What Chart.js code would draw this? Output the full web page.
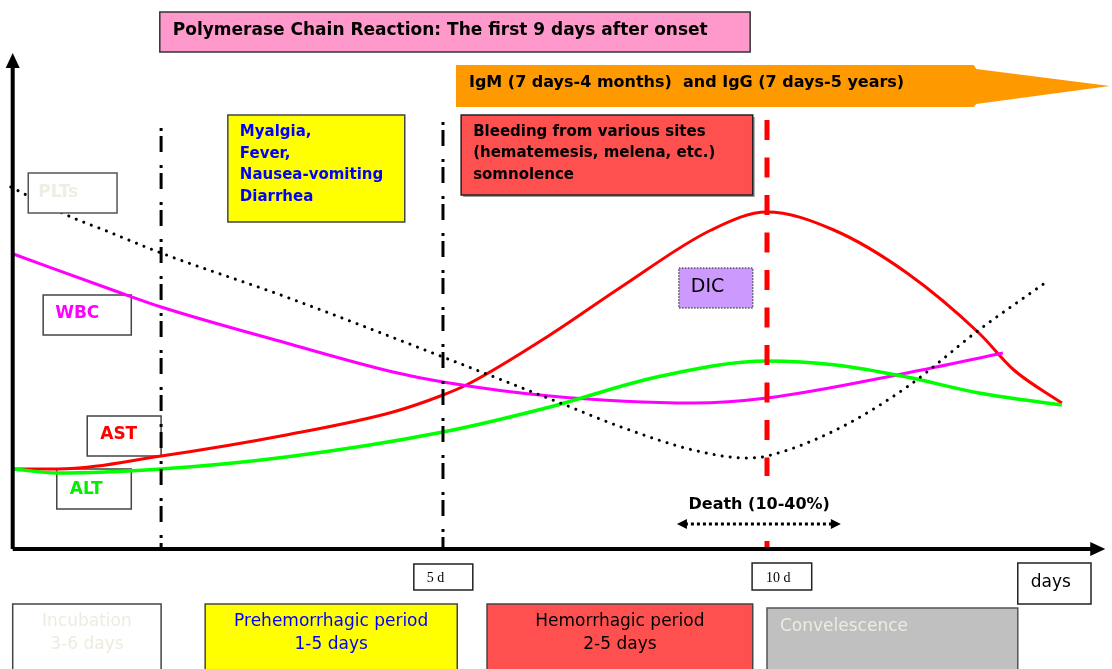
<!DOCTYPE html>
<html>
<head>
    <title>Hemorrhagic fever course</title>
    <style>
        html, body { margin: 0; padding: 0; background: #fff; }
        #canvas-container { width: 1112px; height: 669px; }
    </style>
    <script src="https://cdn.jsdelivr.net/npm/chart.js"></script>
</head>
<body>
    <div id="canvas-container">
        <canvas id="myChart" width="1112" height="669"></canvas>
    </div>

    <script>
        // x = days after onset, y = relative level (0 = baseline)
        const astDays = [-1.64, -0.96, 0.65, 2.58, 4.23, 5.0, 5.39, 6.65, 7.75, 9.14, 10.0, 11.03, 12.16, 13.27, 13.81, 14.55];
        const astLevels = [8.0, 8.0, 9.3, 11.4, 13.7, 15.4, 16.5, 21.4, 26.2, 31.9, 33.7, 31.9, 27.6, 21.6, 17.9, 14.6];

        const altDays = [-1.63, -0.96, 0.65, 2.58, 5.0, 6.65, 8.30, 10.0, 11.06, 12.16, 13.27, 14.55];
        const altLevels = [8.0, 7.6, 8.0, 9.2, 11.7, 14.2, 17.2, 18.8, 18.4, 17.2, 15.6, 14.4];

        const wbcDays = [-1.63, 0.03, 0.65, 2.58, 4.23, 5.0, 6.65, 8.86, 10.0, 12.16, 13.64];
        const wbcLevels = [29.5, 25.6, 24.2, 20.6, 17.7, 16.7, 15.3, 14.6, 15.1, 17.6, 19.6];

        const pltDays = [-1.67, -0.74, -0.23, 0.65, 2.58, 5.0, 6.81, 7.75, 8.86, 9.68, 10.0, 11.06, 12.16, 13.27, 14.31];
        const pltLevels = [36.2, 33.2, 31.9, 29.6, 25.2, 19.2, 14.6, 12.2, 9.9, 9.1, 9.3, 11.9, 16.2, 21.9, 26.7];

        // vertical period markers: day and how high they reach
        const markerDays = [0.65, 5, 10];
        const markerTops = [42.1, 42.7, 42.9];

        const tickLabels = ['5 d', '10 d', 'days'];
        const periodLabels = [['Incubation', '3-6 days'], ['Prehemorrhagic period', '1-5 days'], ['Hemorrhagic period', '2-5 days'], ['Convelescence']];

        const pts = (xs, ys) => xs.map((x, i) => ({ x: x, y: ys[i] }));
        const FONT = '"Comic Sans MS", "DejaVu Sans", sans-serif';

        function curve(label, xs, ys, color, width, dash) {
            return {
                label: label,
                data: pts(xs, ys),
                borderColor: color,
                borderWidth: width,
                borderDash: dash || [],
                borderCapStyle: dash ? 'round' : 'butt',
                cubicInterpolationMode: 'monotone',
                pointRadius: 0,
                fill: false,
                clip: false
            };
        }

        // drawn top-down so the dash pattern starts at the top like the original
        function marker(i, color, width, dash) {
            return {
                label: 'marker' + i,
                data: [{ x: markerDays[i], y: markerTops[i] }, { x: markerDays[i], y: 0 }],
                borderColor: color,
                borderWidth: width,
                borderDash: dash,
                pointRadius: 0,
                clip: false
            };
        }

        // text boxes, placed in chart units (days / levels)
        const boxes = [
            { x0: 0.63, x1: 9.74, y0: 53.7, y1: 49.7, fill: '#FF99CC', stroke: '#333', lines: ['Polymerase Chain Reaction: The first 9 days after onset'], font: 'bold 17px', color: '#000', pad: 13, top: 19 },
            { x0: 1.68, x1: 4.41, y0: 43.4, y1: 32.7, fill: '#FFFF00', stroke: '#444', lines: ['Myalgia,', 'Fever,', 'Nausea-vomiting', 'Diarrhea'], font: 'bold 15px', color: '#0000FF', pad: 12, top: 17, lh: 21.7 },
            { x0: 5.28, x1: 9.78, y0: 43.4, y1: 35.4, fill: '#FF5050', stroke: '#222', shadow: true, lines: ['Bleeding from various sites', '(hematemesis, melena, etc.)', 'somnolence'], font: 'bold 15px', color: '#000', pad: 12, top: 17, lh: 21.5 },
            { x0: -1.40, x1: -0.03, y0: 37.6, y1: 33.6, fill: '#fff', stroke: '#555', lines: ['PLTs'], font: 'bold 17px', color: '#EEEEE4', pad: 10, top: 20, front: true },
            { x0: -1.17, x1: 0.19, y0: 25.4, y1: 21.4, fill: '#fff', stroke: '#444', lines: ['WBC'], font: 'bold 17px', color: '#FF00FF', pad: 12, top: 19 },
            { x0: -0.49, x1: 0.65, y0: 13.3, y1: 9.3, fill: '#fff', stroke: '#444', lines: ['AST'], font: 'bold 17px', color: '#FF0000', pad: 13, top: 19 },
            { x0: -0.96, x1: 0.19, y0: 8.0, y1: 4.0, fill: '#fff', stroke: '#444', lines: ['ALT'], font: 'bold 17px', color: '#00EE00', pad: 13, top: 21 },
            { x0: 8.64, x1: 9.78, y0: 28.1, y1: 24.1, fill: '#CC99FF', stroke: '#555', dotted: true, lines: ['DIC'], font: '19px', color: '#000', pad: 12, top: 19 },
            { x0: 4.55, x1: 5.46, y0: -1.5, y1: -4.1, fill: '#fff', stroke: '#222', lines: [tickLabels[0]], font: '14px', family: '"Liberation Serif", serif', color: '#000', pad: 13, top: 14 },
            { x0: 9.77, x1: 10.69, y0: -1.4, y1: -4.1, fill: '#fff', stroke: '#222', lines: [tickLabels[1]], font: '14px', family: '"Liberation Serif", serif', color: '#000', pad: 14, top: 15 },
            { x0: 13.87, x1: 15.0, y0: -1.4, y1: -5.5, fill: '#fff', stroke: '#222', lines: [tickLabels[2]], font: '17px', color: '#000', pad: 13, top: 20 },
            { x0: -1.64, x1: 0.65, y0: -5.5, y1: -13.5, fill: '#fff', stroke: '#444', lines: periodLabels[0], font: '17px', color: '#EEEBDF', center: true, top: 18, lh: 23 },
            { x0: 1.33, x1: 5.22, y0: -5.5, y1: -13.5, fill: '#FFFF00', stroke: '#444', lines: periodLabels[1], font: '17px', color: '#0000FF', center: true, top: 18, lh: 23 },
            { x0: 5.68, x1: 9.78, y0: -5.5, y1: -13.5, fill: '#FF5050', stroke: '#444', lines: periodLabels[2], font: '17px', color: '#000', center: true, top: 18, lh: 23 },
            { x0: 10.0, x1: 13.87, y0: -5.9, y1: -13.5, fill: '#C0C0C0', stroke: '#555', lines: periodLabels[3], font: '17px', color: '#EEEBDF', pad: 13, top: 19 }
        ];

        function drawBox(ctx, xs, ys, b) {
            const l = xs.getPixelForValue(b.x0), r = xs.getPixelForValue(b.x1);
            const t = ys.getPixelForValue(b.y0), bt = ys.getPixelForValue(b.y1);
            ctx.save();
            if (b.shadow) {
                ctx.fillStyle = '#9a9a9a';
                ctx.fillRect(l + 2, t + 2, r - l, bt - t);
            }
            ctx.fillStyle = b.fill;
            ctx.fillRect(l, t, r - l, bt - t);
            ctx.strokeStyle = b.stroke;
            ctx.lineWidth = 1.5;
            if (b.dotted) ctx.setLineDash([1.5, 1.5]);
            ctx.strokeRect(l, t, r - l, bt - t);
            ctx.setLineDash([]);
            ctx.font = b.font + ' ' + (b.family || FONT);
            ctx.fillStyle = b.color;
            ctx.textBaseline = 'middle';
            ctx.textAlign = b.center ? 'center' : 'left';
            const tx = b.center ? (l + r) / 2 : l + b.pad;
            b.lines.forEach((s, i) => ctx.fillText(s, tx, t + b.top + i * (b.lh || 0)));
            ctx.restore();
        }

        const decorPlugin = {
            id: 'decor',
            beforeDatasetsDraw(chart) {
                const { ctx, scales: { x, y } } = chart;
                boxes.filter(b => !b.front).forEach(b => drawBox(ctx, x, y, b));

                // IgM / IgG arrow band
                const shape = [[5.20, 48.4], [13.19, 48.4], [13.23, 48.0], [15.29, 46.3], [13.23, 44.5], [13.19, 44.2], [5.20, 44.2]];
                ctx.save();
                ctx.fillStyle = '#FF9900';
                ctx.beginPath();
                shape.forEach((p, i) => {
                    const px = x.getPixelForValue(p[0]), py = y.getPixelForValue(p[1]);
                    i ? ctx.lineTo(px, py) : ctx.moveTo(px, py);
                });
                ctx.closePath();
                ctx.fill();
                ctx.font = 'bold 16px ' + FONT;
                ctx.fillStyle = '#000';
                ctx.textBaseline = 'middle';
                ctx.fillText('IgM (7 days-4 months)  and IgG (7 days-5 years)', x.getPixelForValue(5.20) + 13, y.getPixelForValue(48.4) + 18);
                ctx.restore();
            },
            afterDatasetsDraw(chart) {
                const { ctx, scales: { x, y } } = chart;
                boxes.filter(b => b.front).forEach(b => drawBox(ctx, x, y, b));

                const x0 = x.getPixelForValue(-1.64), xEnd = x.getPixelForValue(15.22);
                const y0 = y.getPixelForValue(0), yTop = y.getPixelForValue(49.6);
                ctx.save();

                // death window sits on a white label that hides the red marker
                const dl = x.getPixelForValue(8.61), dr = x.getPixelForValue(11.14), dy = y.getPixelForValue(2.5);
                ctx.fillStyle = '#fff';
                ctx.fillRect(dl + 4, y.getPixelForValue(7.3), dr - dl - 8, y.getPixelForValue(0.8) - y.getPixelForValue(7.3));

                ctx.strokeStyle = '#000';
                ctx.fillStyle = '#000';
                ctx.lineWidth = 4;
                ctx.beginPath();
                ctx.moveTo(x0, y0);
                ctx.lineTo(xEnd - 10, y0);
                ctx.moveTo(x0, y0);
                ctx.lineTo(x0, yTop + 10);
                ctx.stroke();
                // arrow heads
                ctx.beginPath();
                ctx.moveTo(xEnd, y0);
                ctx.lineTo(xEnd - 15, y0 - 7);
                ctx.lineTo(xEnd - 15, y0 + 7);
                ctx.closePath();
                ctx.fill();
                ctx.beginPath();
                ctx.moveTo(x0, yTop);
                ctx.lineTo(x0 - 7, yTop + 15);
                ctx.lineTo(x0 + 7, yTop + 15);
                ctx.closePath();
                ctx.fill();

                ctx.lineWidth = 3;
                ctx.setLineDash([3, 3]);
                ctx.beginPath();
                ctx.moveTo(dl + 8, dy);
                ctx.lineTo(dr - 8, dy);
                ctx.stroke();
                ctx.setLineDash([]);
                ctx.beginPath();
                ctx.moveTo(dl, dy); ctx.lineTo(dl + 10, dy - 5); ctx.lineTo(dl + 10, dy + 5); ctx.closePath();
                ctx.moveTo(dr, dy); ctx.lineTo(dr - 10, dy - 5); ctx.lineTo(dr - 10, dy + 5); ctx.closePath();
                ctx.fill();
                ctx.font = 'bold 16px ' + FONT;
                ctx.textAlign = 'center';
                ctx.textBaseline = 'middle';
                ctx.fillText('Death (10-40%)', x.getPixelForValue(9.88), y.getPixelForValue(4.4));
                ctx.restore();
            }
        };

        const canvas = document.getElementById('myChart');
        const myChart = new Chart(canvas.getContext('2d'), {
            type: 'line',
            data: {
                datasets: [
                    marker(0, '#000', 3, [3, 5, 16, 13]),
                    marker(1, '#000', 3, [3, 5, 16, 13]),
                    marker(2, '#FF0000', 5, [20, 17.5]),
                    curve('PLTs', pltDays, pltLevels, '#000', 3, [0.1, 8]),
                    curve('ALT', altDays, altLevels, '#00FF00', 3.5),
                    curve('WBC', wbcDays, wbcLevels, '#FF00FF', 3),
                    curve('AST', astDays, astLevels, '#FF0000', 3)
                ]
            },
            options: {
                responsive: false,
                animation: false,
                layout: { padding: 0 },
                plugins: {
                    legend: { display: false },
                    tooltip: { enabled: false }
                },
                scales: {
                    x: { type: 'linear', min: -1.836, max: 15.324, display: false },
                    y: { type: 'linear', min: -12, max: 54.9, display: false }
                }
            },
            plugins: [decorPlugin]
        });
    </script>
</body>
</html>
